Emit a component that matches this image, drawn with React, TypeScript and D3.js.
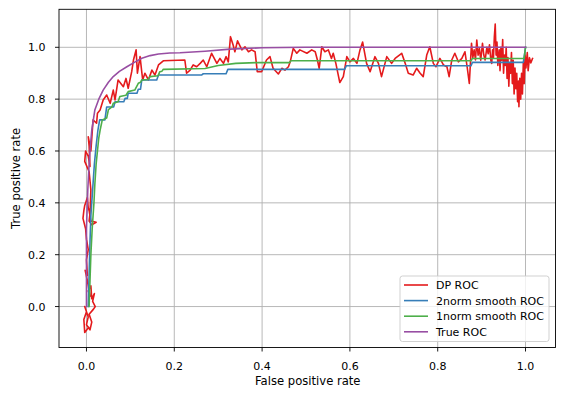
import React from 'react';
import * as d3 from 'd3';

const W = 564;
const H = 399;

const xTicks = [0, 0.2, 0.4, 0.6, 0.8, 1.0];
const yTicks = [0, 0.2, 0.4, 0.6, 0.8, 1.0];
const seriesNames = ['DP ROC', '2norm smooth ROC', '1norm smooth ROC', 'True ROC'];
const seriesColors = ['#e41a1c', '#377eb8', '#4daf4a', '#984ea3'];

// [false positive rate, true positive rate]
const dpRoc: [number, number][] = [
  [0.005, -0.08], [-0.004, -0.1], [-0.006, -0.05], [0.0, -0.02], [-0.004, 0.0], [0.004, -0.04],
  [0.0, -0.07], [0.008, -0.09], [0.012, -0.06], [0.006, -0.03], [0.016, -0.01], [0.02, 0.0],
  [0.014, 0.02], [0.018, 0.05], [0.012, 0.03], [0.01, 0.08], [0.004, 0.06], [0.008, 0.04],
  [0.002, 0.1], [-0.003, 0.14], [0.002, 0.12], [0.0, 0.18], [0.004, 0.22], [0.0, 0.26], [-0.002, 0.3],
  [-0.008, 0.34], [-0.006, 0.37], [-0.004, 0.39], [0.002, 0.42], [0.004, 0.38], [0.006, 0.37],
  [0.01, 0.33], [0.022, 0.325], [0.012, 0.315], [0.006, 0.33], [0.008, 0.36], [0.01, 0.45],
  [0.006, 0.52], [-0.004, 0.56], [-0.002, 0.6], [0.004, 0.58], [0.008, 0.54], [0.006, 0.62],
  [0.004, 0.655], [0.01, 0.6], [0.015, 0.72],
  [0.023, 0.707], [0.025, 0.746], [0.031, 0.758], [0.038, 0.797], [0.046, 0.816], [0.054, 0.784],
  [0.061, 0.835], [0.065, 0.797], [0.072, 0.874], [0.084, 0.848], [0.09, 0.88], [0.095, 0.842],
  [0.103, 0.906], [0.107, 0.951], [0.113, 0.99], [0.116, 0.9], [0.122, 0.964], [0.128, 0.874],
  [0.133, 0.9], [0.141, 0.874], [0.149, 0.912], [0.156, 0.893], [0.164, 0.932], [0.175, 0.948],
  [0.224, 0.951], [0.228, 0.9], [0.236, 0.912], [0.243, 0.932], [0.251, 0.925], [0.259, 0.938],
  [0.266, 0.951], [0.274, 0.925], [0.285, 0.977], [0.297, 0.938], [0.304, 0.957], [0.312, 0.938],
  [0.318, 0.964], [0.323, 0.944], [0.328, 1.041], [0.334, 1.009], [0.338, 0.983], [0.344, 1.025],
  [0.354, 0.99], [0.361, 1.002], [0.369, 0.983], [0.376, 0.99], [0.384, 0.983], [0.389, 0.906],
  [0.399, 0.906], [0.41, 0.951], [0.418, 0.964], [0.425, 0.919], [0.437, 0.897], [0.445, 0.919],
  [0.452, 0.912], [0.46, 0.925], [0.464, 0.944], [0.471, 0.996], [0.479, 0.977], [0.486, 0.99],
  [0.502, 0.977], [0.513, 0.99], [0.521, 0.983], [0.526, 0.951], [0.53, 0.919], [0.536, 1.002],
  [0.543, 0.983], [0.551, 0.99], [0.558, 0.957], [0.562, 0.977], [0.568, 0.938], [0.577, 0.864],
  [0.585, 0.887], [0.593, 0.964], [0.6, 0.944], [0.608, 0.957], [0.616, 0.938], [0.623, 0.99],
  [0.629, 1.02], [0.638, 0.938], [0.646, 0.906], [0.657, 0.964], [0.665, 0.938], [0.672, 0.887],
  [0.684, 0.964], [0.695, 0.938], [0.703, 0.957], [0.718, 0.977], [0.726, 0.938], [0.733, 0.9],
  [0.744, 0.893], [0.752, 0.919], [0.76, 0.9], [0.767, 0.887], [0.775, 0.97], [0.782, 1.002],
  [0.79, 0.938], [0.796, 0.925], [0.805, 0.957], [0.813, 0.932], [0.821, 0.925], [0.826, 0.887],
  [0.832, 0.951], [0.839, 0.977], [0.847, 0.944], [0.855, 0.957], [0.862, 0.983], [0.867, 0.925],
  [0.872, 0.861], [0.877, 1.015], [0.88, 0.96], [0.883, 0.99], [0.886, 0.951], [0.889, 1.028],
  [0.892, 0.97], [0.895, 0.995], [0.898, 0.95], [0.902, 1.015], [0.905, 0.97], [0.908, 0.951],
  [0.912, 1.0], [0.915, 0.975], [0.918, 1.01], [0.921, 0.95], [0.923, 0.938], [0.925, 0.99],
  [0.927, 0.96], [0.929, 1.04], [0.931, 1.09], [0.933, 0.97], [0.935, 1.02], [0.937, 0.93],
  [0.94, 0.99], [0.942, 0.91], [0.944, 1.0], [0.946, 0.95], [0.948, 1.03], [0.95, 0.9],
  [0.952, 0.97], [0.954, 0.93], [0.956, 1.0], [0.958, 0.88], [0.96, 0.96], [0.962, 0.85],
  [0.964, 0.94], [0.966, 0.9], [0.968, 0.98], [0.97, 0.86], [0.972, 0.95], [0.974, 0.82],
  [0.976, 0.92], [0.978, 0.84], [0.98, 0.9], [0.982, 0.79], [0.984, 0.87], [0.985, 0.771],
  [0.987, 0.88], [0.989, 0.8], [0.991, 0.9], [0.993, 0.82], [0.995, 0.94], [0.997, 0.86],
  [0.999, 0.97], [1.001, 0.92], [1.004, 0.98], [1.006, 0.91], [1.009, 0.96], [1.012, 0.94],
  [1.016, 0.957],
];

const norm2Roc: [number, number][] = [
  [0.004, 0.0], [0.008, 0.25], [0.01, 0.35], [0.014, 0.45], [0.018, 0.55], [0.022, 0.62],
  [0.026, 0.68], [0.03, 0.72], [0.042, 0.72], [0.046, 0.77], [0.062, 0.77], [0.065, 0.79],
  [0.085, 0.79], [0.088, 0.803], [0.093, 0.803], [0.095, 0.823], [0.115, 0.823], [0.118, 0.838],
  [0.123, 0.838], [0.126, 0.874], [0.16, 0.874], [0.164, 0.893], [0.262, 0.893], [0.266, 0.898],
  [0.318, 0.898], [0.322, 0.915], [0.588, 0.915], [0.592, 0.929], [0.876, 0.929], [0.879, 0.942],
  [0.995, 0.942], [1.0, 1.0],
];

const norm1Roc: [number, number][] = [
  [0.006, 0.0], [0.008, 0.1], [0.01, 0.2], [0.013, 0.3], [0.017, 0.4], [0.019, 0.47],
  [0.022, 0.55], [0.025, 0.6], [0.028, 0.65], [0.031, 0.68], [0.036, 0.72], [0.046, 0.727],
  [0.05, 0.76], [0.058, 0.77], [0.061, 0.784], [0.072, 0.79], [0.076, 0.81], [0.09, 0.815],
  [0.095, 0.829], [0.11, 0.835], [0.118, 0.861], [0.123, 0.865], [0.126, 0.874], [0.14, 0.876],
  [0.145, 0.887], [0.163, 0.89], [0.167, 0.906], [0.172, 0.908], [0.175, 0.915], [0.27, 0.918],
  [0.3, 0.93], [0.34, 0.938], [0.39, 0.941], [0.462, 0.941], [0.466, 0.948], [0.876, 0.948],
  [0.879, 0.957], [0.997, 0.957], [1.0, 1.0],
];

const trueRoc: [number, number][] = [
  [0.0, 0.0], [0.0, 0.3], [0.003, 0.45], [0.006, 0.55], [0.008, 0.6], [0.012, 0.68],
  [0.019, 0.758], [0.028, 0.8], [0.038, 0.835], [0.05, 0.865], [0.061, 0.887], [0.075, 0.907],
  [0.092, 0.925], [0.11, 0.943], [0.126, 0.958], [0.145, 0.968], [0.164, 0.974], [0.19, 0.978],
  [0.213, 0.979], [0.27, 0.985], [0.327, 0.993], [0.4, 0.998], [0.5, 1.0], [1.0, 1.0],
];

const allSeries = [dpRoc, norm2Roc, norm1Roc, trueRoc];

const App = () => {
  const left = 59;
  const right = 555.5;
  const top = 9.3;
  const bottom = 347.5;

  const x = d3.scaleLinear().domain([-0.0626, 1.0683]).range([left, right]);
  const y = d3.scaleLinear().domain([-0.158, 1.1466]).range([bottom, top]);

  const line = d3
    .line<[number, number]>()
    .x((d) => x(d[0]))
    .y((d) => y(d[1]));

  const font = "'DejaVu Sans', sans-serif";

  return (
    <svg
      width={W}
      height={H}
      style={{ position: 'absolute', left: 0, top: 0, background: '#fff' }}
      fontFamily={font}
    >
      <defs>
        <clipPath id="plotArea">
          <rect x={left} y={top} width={right - left} height={bottom - top} />
        </clipPath>
      </defs>

      {/* grid */}
      {xTicks.map((t) => (
        <line key={'gx' + t} x1={x(t)} x2={x(t)} y1={top} y2={bottom} stroke="#b0b0b0" strokeWidth={0.9} />
      ))}
      {yTicks.map((t) => (
        <line key={'gy' + t} x1={left} x2={right} y1={y(t)} y2={y(t)} stroke="#b0b0b0" strokeWidth={0.9} />
      ))}

      {/* curves */}
      <g clipPath="url(#plotArea)" fill="none" strokeLinejoin="round" strokeLinecap="square">
        {allSeries.map((s, i) => (
          <path key={i} d={line(s) || ''} stroke={seriesColors[i]} strokeWidth={1.6} />
        ))}
      </g>

      {/* frame */}
      <rect x={left} y={top} width={right - left} height={bottom - top} fill="none" stroke="#000" strokeWidth={0.9} />

      {/* x ticks */}
      {xTicks.map((t) => (
        <g key={'xt' + t}>
          <line x1={x(t)} x2={x(t)} y1={bottom} y2={bottom + 4} stroke="#000" strokeWidth={0.9} />
          <text x={x(t)} y={369.5} textAnchor="middle" fontSize={11}>
            {t.toFixed(1)}
          </text>
        </g>
      ))}
      {/* y ticks */}
      {yTicks.map((t) => (
        <g key={'yt' + t}>
          <line x1={left - 4} x2={left} y1={y(t)} y2={y(t)} stroke="#000" strokeWidth={0.9} />
          <text x={45.5} y={y(t) + 4} textAnchor="end" fontSize={11}>
            {t.toFixed(1)}
          </text>
        </g>
      ))}

      <text x={(left + right) / 2 + 0.5} y={384.5} textAnchor="middle" fontSize={11.6}>
        False positive rate
      </text>
      <text
        transform={`translate(20, ${(top + bottom) / 2}) rotate(-90)`}
        textAnchor="middle"
        fontSize={11.6}
      >
        True positive rate
      </text>

      {/* legend */}
      <rect x={400} y={276} width={149} height={65.5} rx={2.5} fill="#fff" fillOpacity={0.8} stroke="#cccccc" strokeWidth={0.9} />
      {seriesNames.map((name, i) => {
        const cy = 285 + i * 15.6;
        return (
          <g key={name}>
            <line x1={404} x2={428} y1={cy} y2={cy} stroke={seriesColors[i]} strokeWidth={1.6} />
            <text x={436} y={cy + 4} fontSize={11}>
              {name}
            </text>
          </g>
        );
      })}
    </svg>
  );
};

export default App;
